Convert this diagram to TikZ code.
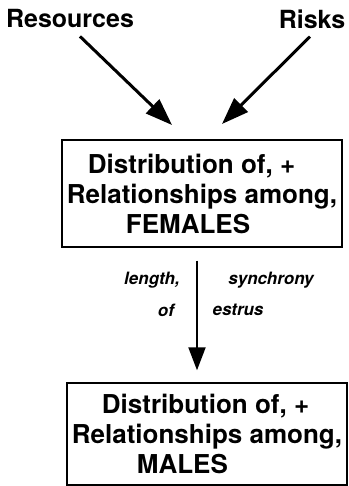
\documentclass[tikz,border=0pt]{standalone}
\usepackage{fontspec}
\setmainfont{TeX Gyre Heros}
\usetikzlibrary{arrows.meta}

\begin{document}
\begin{tikzpicture}[x=1pt, y=-1pt,
    hdr/.style={font=\fontsize{25}{30}\selectfont\bfseries, inner sep=2pt},
    bigbox/.style={draw, line width=1.4pt, minimum width=280pt, align=left,
                   font=\fontsize{26}{30}\selectfont\bfseries},
    lbl/.style={font=\fontsize{17}{20}\selectfont\bfseries\itshape, inner sep=1pt},
    bigarrow/.style={line width=3pt, -{Triangle[length=27pt,width=19pt]}},
    downarrow/.style={line width=2pt, -{Triangle[length=23pt,width=17pt]}}]

  \useasboundingbox (0,0) rectangle (348,486);

	%inputs
  \node[hdr] (res) at (70,19) {Resources};
  \node[hdr] (risks) at (312,19) {Risks};

	%boxes
  \node[bigbox, minimum height=107pt] (fem) at (202,193.5)
    {\hspace*{21pt}Distribution of, +\\Relationships among,\hspace*{10pt}\\\hspace*{59pt}FEMALES};
  \node[bigbox, minimum height=102pt] (mal) at (207,434)
    {\hspace*{30pt}Distribution of, +\\Relationships among,\hspace*{7pt}\\\hspace*{65pt}MALES};

  \coordinate (tipA) at (172,125);
  \coordinate (tipB) at (222,124);

  \draw[bigarrow] ([xshift=10pt,yshift=-6pt]res.south) -- (tipA);
  \draw[bigarrow] ([xshift=-2pt,yshift=-6pt]risks.south) -- (tipB);
  \draw[downarrow] ([xshift=-5pt,yshift=-13pt]fem.south) -- ([xshift=-10pt,yshift=12pt]mal.north);

	%labels
  \node[lbl] (lenlbl) at (152,280) {length,};
  \node[lbl] (synlbl) at (271,280) {synchrony};
  \node[lbl] (oflbl) at (166,310) {of};
  \node[lbl] (estlbl) at (238,310) {estrus};

\end{tikzpicture}
\end{document}
